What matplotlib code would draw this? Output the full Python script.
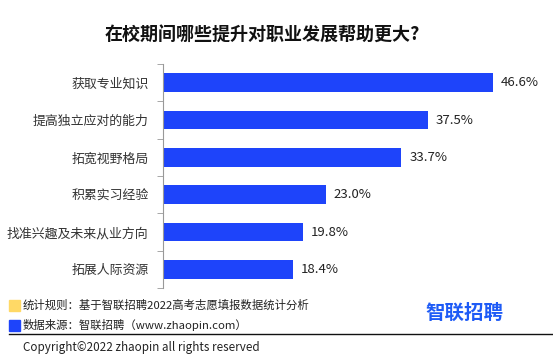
import matplotlib.pyplot as plt
from matplotlib.patches import Rectangle
from matplotlib.lines import Line2D

plt.rcParams['font.family'] = ['Noto Sans CJK SC', 'DejaVu Sans']

categories = ['获取专业知识', '提高独立应对的能力', '拓宽视野格局',
              '积累实习经验', '找准兴趣及未来从业方向', '拓展人际资源']
values = [46.6, 37.5, 33.7, 23.0, 19.8, 18.4]
value_labels = ['46.6%', '37.5%', '33.7%', '23.0%', '19.8%', '18.4%']

title = '在校期间哪些提升对职业发展帮助更大?'
note_rule = '统计规则：基于智联招聘2022高考志愿填报数据统计分析'
note_source = '数据来源：智联招聘（www.zhaopin.com）'
copyright_text = 'Copyright©2022 zhaopin all rights reserved'

blue = '#1E44FA'
yellow = '#FFD966'

W, H = 553, 364
fig = plt.figure(figsize=(W / 100, H / 100), dpi=100)

# axes placed in pixel coords
left, right, top, bottom = 163, 516.8, 64, 288
ax = fig.add_axes([left / W, 1 - bottom / H, (right - left) / W, (bottom - top) / H])

n = len(categories)
pos = list(range(n))
ax.barh(pos, values, height=0.5, color=blue)
ax.set_xlim(0, 50)
ax.set_ylim(n - 0.5, -0.5)

for p, v, lab in zip(pos, values, value_labels):
    ax.text(v + 1.1, p, lab, va='center', ha='left', fontsize=9.5, color='#222222')

ax.set_yticks(pos)
ax.set_yticklabels(categories, fontsize=9.3, color='#333333')
ax.tick_params(axis='y', length=0, pad=10.5)
# boundary ticks between categories
ax.set_yticks([i - 0.5 for i in range(n + 1)], minor=True)
ax.tick_params(axis='y', which='minor', length=4, color='#999999', direction='out')
ax.set_xticks([])
for s in ['top', 'right', 'bottom']:
    ax.spines[s].set_visible(False)
ax.spines['left'].set_color('#999999')

fig.text(262 / W, 1 - 35 / H, title, ha='center', va='center',
         fontsize=13, fontweight='bold', color='#111111')

# footer
fig.patches.append(Rectangle((9 / W, 1 - 311 / H), 11 / W, 11 / H,
                             transform=fig.transFigure, color=yellow))
fig.patches.append(Rectangle((9 / W, 1 - 331 / H), 11 / W, 11 / H,
                             transform=fig.transFigure, color=blue))
fig.text(23 / W, 1 - 305 / H, note_rule, ha='left', va='center', fontsize=8.2, color='#222222')
fig.text(23 / W, 1 - 325 / H, note_source, ha='left', va='center', fontsize=8.2, color='#222222')
fig.lines.append(Line2D([9 / W, 553 / W], [1 - 334 / H, 1 - 334 / H],
                        transform=fig.transFigure, color='#111111', lw=1))
fig.text(23 / W, 1 - 348 / H, copyright_text, ha='left', va='center', fontsize=8.4, color='#222222')
fig.text(464 / W, 1 - 313 / H, '智联招聘', ha='center', va='center',
         fontsize=14, fontweight='bold', color='#1E5BF6')

fig.savefig('out.png', dpi=100)
